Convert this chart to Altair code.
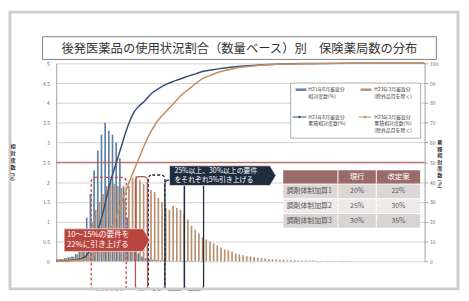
import altair as alt
import pandas as pd

FONT = "Noto Sans CJK JP"

# ---------------- data ----------------
categories = list(range(100))  # 1% bins: 0%~ ... 99%~

h21_rel = [0.05, 0.06, 0.08, 0.10, 0.12, 0.18, 0.30, 0.60, 1.10, 1.70,
           2.30, 2.80, 3.20, 3.50, 3.30, 3.20, 3.00, 2.60, 1.90, 1.10,
           0.60, 0.35, 0.20, 0.12, 0.08, 0.05, 0.04, 0.03, 0.02, 0.02,
           0.01, 0.01, 0.01, 0.01, 0.01, 0.01, 0.01, 0.01, 0.01, 0.01] + [0.0] * 60

h23_rel = [0.05, 0.06, 0.08, 0.10, 0.12, 0.18, 0.30, 0.50, 0.75, 1.00,
           1.30, 1.50, 1.70, 1.90, 2.00, 1.95, 1.90, 1.85, 1.60, 1.90,
           2.10, 2.15, 2.05, 1.95, 2.00, 1.80, 1.75, 1.60, 1.50, 1.35,
           1.30, 1.40, 1.35, 1.30, 1.20, 1.05, 0.90, 0.80, 0.70, 0.60,
           0.55, 0.50, 0.45, 0.40, 0.35, 0.30, 0.28, 0.25, 0.20, 0.18,
           0.15, 0.13, 0.12, 0.10, 0.09, 0.08, 0.07, 0.06, 0.05, 0.05,
           0.04, 0.04, 0.03, 0.03, 0.03, 0.02, 0.02, 0.02, 0.02, 0.02,
           0.01, 0.01, 0.01, 0.01, 0.01, 0.01, 0.01, 0.01, 0.01, 0.01] + [0.0] * 20

h21_cum_pos = [0, 2, 4, 6, 7, 8, 9, 10, 11, 12, 13, 14, 15, 16, 17, 18, 19, 20, 21, 22,
               24, 26, 28, 30, 32, 35, 38, 40, 44, 48, 52, 56, 60, 70, 80, 90, 100]
h21_cum = [0, 0.2, 0.5, 1, 1.5, 2.5, 5, 9, 14, 20, 27, 35, 42, 48, 54, 60, 66, 71, 75, 77.5,
           81, 85, 87.5, 89.5, 91, 93, 94.8, 96, 97.2, 98.2, 98.8, 99.3, 99.6, 99.9, 100, 100, 100]

h23_cum_pos = [0, 4, 8, 10, 12, 14, 16, 18, 19, 20, 21, 22, 23, 24, 25, 26, 27, 28, 29, 30,
               31, 32, 34, 36, 38, 40, 42, 44, 46, 48, 50, 55, 60, 70, 80, 100]
h23_cum = [0, 0.3, 1.2, 3, 7, 13, 21, 31, 36, 41, 45.5, 50, 54.5, 59, 63, 66.5, 69.5, 72, 74, 76,
           78, 80, 84, 87, 90, 92.5, 94, 95.5, 96.5, 97.3, 98, 99, 99.5, 99.8, 100, 100]

x_ticks = list(range(0, 101, 5))
y_left_ticks = [0, 0.5, 1, 1.5, 2, 2.5, 3, 3.5, 4, 4.5, 5]
y_right_ticks = list(range(0, 101, 10))
ref_level = 2.5  # red reference line (= 50% on the right axis)

title_text = "後発医薬品の使用状況割合（数量ベース）別　保険薬局数の分布"
left_title = ["相", "対", "度", "数"]
right_title = ["累", "積", "相", "対", "度", "数"]
unit_text = "(%)"

legend_lines = [
    ["H21年6月審査分", "相対度数(%)"],
    ["H23年3月審査分", "(除外品目を除く)"],
    ["H21年6月審査分", "累積相対度数(%)"],
    ["H23年3月審査分", "累積相対度数(%)", "(除外品目を除く)"],
]

table_header = ["", "現行", "改定案"]
table_rows = ["調剤体制加算1", "調剤体制加算2", "調剤体制加算3"]
table_now = ["20%", "25%", "30%"]
table_new = ["22%", "30%", "35%"]

callout_red = ["10～15%の要件を", "22%に引き上げる"]
callout_navy = ["25%以上、30%以上の要件", "をそれぞれ5%引き上げる"]

# requirement boxes, in axis units (x in %, y in left-axis units)
dashed_box_x0 = [9.5, 25.0]
dashed_box_x1 = [19.0, 29.5]
dashed_box_top = [2.12, 2.18]
solid_box_x0 = [21.5, 29.5, 34.8]
solid_box_x1 = [24.8, 34.8, 40.0]
solid_box_top = [2.14, 2.05, 2.05]
box_bottom = -0.72

# ---------------- styles / layout ----------------
BLUE_BAR = "#5d7fa6"
BROWN_BAR = "#b58f70"
BLUE_LINE = "#34507a"
BROWN_LINE = "#c78d5e"
RED = "#c0504d"
NAVY = "#1e2c3d"
GRID = "#c6c6c6"
W, H = 374, 201
OX, OY = 57, 62  # page position of plot origin


def P(x, y):
    return x - OX, y - OY


xscale = alt.Scale(domain=[0, 100], nice=False, zero=False)
yL = alt.Scale(domain=[0, 5], nice=False, zero=False)
yR = alt.Scale(domain=[0, 100], nice=False, zero=False)

bars_df = pd.DataFrame({"cat": categories * 2,
                        "series": ["H21"] * 100 + ["H23"] * 100,
                        "val": h21_rel + h23_rel})

x_axis = alt.Axis(values=x_ticks, labelExpr="datum.value < 100 ? datum.value + '%~' : ''",
                  labelAlign="left", labelPadding=9, ticks=False, grid=True, gridColor=GRID,
                  gridWidth=0.8, domainColor="#a0a0a0", labelFontSize=5.5, labelColor="#555555",
                  labelOverlap=False, title=None, labelFont=FONT)
yl_axis = alt.Axis(values=y_left_ticks, format="~g", grid=True, gridColor=GRID, gridWidth=0.8,
                   ticks=False, labelPadding=7, labelFontSize=5, labelColor="#666666",
                   domainColor="#a0a0a0", title=None, labelOverlap=False, labelFont=FONT)
yr_axis = alt.Axis(orient="right", values=y_right_ticks, grid=False, ticks=True, tickSize=3,
                   tickColor="#a0a0a0", labelPadding=2, labelFontSize=5, labelColor="#666666",
                   domainColor="#a0a0a0", title=None, labelOverlap=False, labelFont=FONT)


def bar_layer(series, color, with_axes):
    return alt.Chart(bars_df).transform_filter(f"datum.series == '{series}'").transform_calculate(
        x0="datum.cat + (datum.series == 'H21' ? 0.05 : 0.5)",
        x1="datum.cat + (datum.series == 'H21' ? 0.5 : 0.95)",
        zero="0",
    ).mark_rect(color=color).encode(
        x=alt.X("x0:Q", scale=xscale, axis=x_axis if with_axes else None), x2="x1:Q",
        y=alt.Y("val:Q", scale=yL, axis=yl_axis if with_axes else None), y2="zero:Q")


bars_blue = bar_layer("H21", BLUE_BAR, True)
bars_brown = bar_layer("H23", BROWN_BAR, False)

ref_rule = alt.Chart(pd.DataFrame({"v": [ref_level]})).mark_rule(color=RED, strokeWidth=1).encode(
    y=alt.Y("v:Q", scale=yL, axis=None))

dash_df = pd.DataFrame({"x0": dashed_box_x0, "x1": dashed_box_x1, "top": dashed_box_top,
                        "bot": [box_bottom] * 2, "c": [RED, NAVY]})
solid_df = pd.DataFrame({"x0": solid_box_x0, "x1": solid_box_x1, "top": solid_box_top,
                         "bot": [box_bottom] * 3, "c": [RED, NAVY, NAVY]})


def box_layer(df, dash):
    kw = dict(fillOpacity=0, strokeWidth=1.3, cornerRadius=4)
    if dash:
        kw["strokeDash"] = [3, 2]
    return alt.Chart(df).mark_rect(**kw).encode(
        x=alt.X("x0:Q", scale=xscale, axis=None), x2="x1:Q",
        y=alt.Y("top:Q", scale=yL, axis=None), y2="bot:Q",
        stroke=alt.Stroke("c:N", scale=None))


cum_df = pd.DataFrame({"pos": h21_cum_pos + h23_cum_pos,
                       "cum": h21_cum + h23_cum,
                       "series": ["H21"] * len(h21_cum_pos) + ["H23"] * len(h23_cum_pos)})
line_blue = alt.Chart(cum_df).transform_filter("datum.series == 'H21'").mark_line(
    color=BLUE_LINE, strokeWidth=1.5, interpolate="monotone").encode(
    x=alt.X("pos:Q", scale=xscale, axis=None), y=alt.Y("cum:Q", scale=yR, axis=yr_axis))
line_brown = alt.Chart(cum_df).transform_filter("datum.series == 'H23'").mark_line(
    color=BROWN_LINE, strokeWidth=1.5, interpolate="monotone").encode(
    x=alt.X("pos:Q", scale=xscale, axis=None), y=alt.Y("cum:Q", scale=yR, axis=None))

# ---------------- overlay (pixel positions relative to plot origin) ----------------
one = pd.DataFrame({"a": [0]})


def rect_at(x0, y0, x1, y1, **kw):
    a, b = P(x0, y0), P(x1, y1)
    return alt.Chart(one).mark_rect(**kw).encode(
        x=alt.value(a[0]), x2=alt.value(b[0]), y=alt.value(a[1]), y2=alt.value(b[1]))


def text_at(x, y, s, **kw):
    a = P(x, y)
    return alt.Chart(one).mark_text(font=FONT, **kw).encode(
        x=alt.value(a[0]), y=alt.value(a[1]), text=alt.value(s))


overlay = []
# frame and title box
overlay.append(rect_at(10, 10, 465, 291, fillOpacity=0, stroke="#cdcdcd", strokeWidth=3))
overlay.append(rect_at(43, 35, 443, 58, fill="white", stroke="#808080", strokeWidth=1))
overlay.append(text_at(243, 47, title_text, fontSize=12.5, color="#333333", align="center", baseline="middle"))

# vertical (stacked) axis titles
for (tx, ty, chars, pitch) in [(13, 146, left_title, 7.0), (446.5, 142, right_title, 6.6)]:
    for k, ch in enumerate(chars):
        overlay.append(text_at(tx, ty + pitch * k, ch, fontSize=5.2, fontWeight="bold", color="#333333",
                               align="center", baseline="middle"))
    overlay.append(text_at(tx, ty + pitch * len(chars) + 3, unit_text, fontSize=5, fontWeight="bold",
                           color="#333333", align="center", baseline="middle", angle=90))

# legend
overlay.append(rect_at(295, 82, 427, 138, fill="white", stroke="#9a9a9a", strokeWidth=0.8))
overlay.append(rect_at(300, 87.5, 311, 90, color=BLUE_BAR))
overlay.append(rect_at(366, 87.5, 377, 90, color=BROWN_BAR))
for (x0, x1, c) in [(297, 311, BLUE_LINE), (364, 377, BROWN_LINE)]:
    a, b = P(x0, 116.5), P(x1, 116.5)
    overlay.append(alt.Chart(one).mark_rule(color=c, strokeWidth=1).encode(
        x=alt.value(a[0]), x2=alt.value(b[0]), y=alt.value(a[1])))
    overlay.append(alt.Chart(one).mark_point(color=c, filled=True, size=6, opacity=1).encode(
        x=alt.value((a[0] + b[0]) / 2), y=alt.value(a[1])))
for (px_, py_), lines in zip([(313, 88.5), (380, 88.5), (313, 116.5), (380, 116.5)], legend_lines):
    for k, s in enumerate(lines):
        overlay.append(text_at(px_, py_ + 6.6 * k, s, fontSize=5, color="#444444", align="left",
                               baseline="middle"))

# table
col_edges = [287, 343, 382, 427]
row_edges = [170, 184.5, 199.5, 214.5, 229.5]
row_fill = ["#9b6b69", "#ddd6d6", "#eeeaea", "#dad3d3"]
for r in range(4):
    for c in range(3):
        overlay.append(rect_at(col_edges[c] + 0.5, row_edges[r] + 0.5, col_edges[c + 1] - 0.5,
                               row_edges[r + 1] - 0.5, color=row_fill[r]))
for c in range(1, 3):
    overlay.append(text_at((col_edges[c] + col_edges[c + 1]) / 2, (row_edges[0] + row_edges[1]) / 2,
                           table_header[c], fontSize=7.5, color="white", align="center", baseline="middle"))
for r in range(3):
    yc = (row_edges[r + 1] + row_edges[r + 2]) / 2
    overlay.append(text_at(291, yc, table_rows[r], fontSize=7, color="#555555", align="left",
                           baseline="middle"))
    for c, vals in zip([1, 2], [table_now, table_new]):
        overlay.append(text_at((col_edges[c] + col_edges[c + 1]) / 2, yc, vals[r], fontSize=7,
                               color="#555555", align="center", baseline="middle"))


# callouts (arrow shaped boxes)
def callout(x0, x_body, x_tip, y0, y1, fill):
    cx, cy = (x0 + x_tip) / 2, (y0 + y1) / 2
    r = (y1 - y0) / 2
    a, b, t = (x0 - cx) / r, (x_body - cx) / r, (x_tip - cx) / r
    path = f"M{a:.3f},-1L{b:.3f},-1L{t:.3f},0L{b:.3f},1L{a:.3f},1Z"
    q = P(cx, cy)
    return alt.Chart(one).mark_point(shape=path, size=(2 * r) ** 2, filled=True, fill=fill, opacity=1,
                                     stroke="#f2dede", strokeWidth=0.8).encode(
        x=alt.value(q[0]), y=alt.value(q[1]))


overlay.append(callout(65, 145, 152, 230, 253, "#b8463f"))
overlay.append(callout(172, 274, 280, 166, 186, NAVY))
overlay.append(text_at(68, 236, callout_red[0], fontSize=7.8, color="white", align="left", baseline="middle"))
overlay.append(text_at(68, 246.5, callout_red[1], fontSize=7.8, color="white", align="left", baseline="middle"))
overlay.append(text_at(177, 171.8, callout_navy[0], fontSize=7, color="white", align="left", baseline="middle"))
overlay.append(text_at(177, 180.8, callout_navy[1], fontSize=7, color="white", align="left", baseline="middle"))

layers = [bars_blue, bars_brown, ref_rule, box_layer(dash_df, True), box_layer(solid_df, False),
          line_blue, line_brown] + overlay

chart = alt.layer(*layers).resolve_scale(y="independent").properties(
    width=W, height=H,
    padding={"left": OX - 8, "top": OY - 8, "right": 468 - 8 - (OX - 8) - W, "bottom": 285 - (OY - 8) - H},
    autosize=alt.AutoSizeParams(type="none"),
).configure(font=FONT).configure_view(stroke=None)

chart.save("out.html", embed_options={"renderer": "svg", "actions": False})
